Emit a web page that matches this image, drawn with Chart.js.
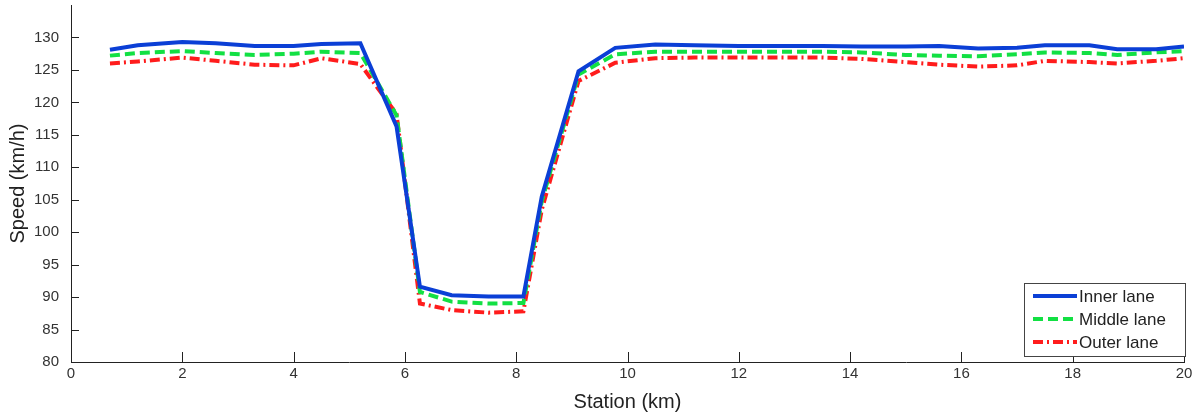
<!DOCTYPE html>
<html>
<head>
<meta charset="utf-8">
<script src="https://cdn.jsdelivr.net/npm/chart.js@4"></script>
<style>
  body { margin: 0; background: #fff; }
  #wrap { width: 1204px; height: 414px; }
</style>
</head>
<body>
<div id="wrap"><canvas id="speed--chart" width="1204" height="414"></canvas></div>
<script>
// station positions (km)
var stations = [0.7, 1.2, 2.0, 2.6, 3.3, 4.0, 4.5, 5.2, 5.85, 6.27, 6.84, 7.5, 8.13, 8.46, 9.12, 9.78,
  10.5, 11.2, 12.0, 12.8, 13.5, 14.2, 15.0, 15.6, 16.3, 17.0, 17.5, 18.3, 18.8, 19.5, 20.0];

var innerLane = [128.1, 128.8, 129.3, 129.1, 128.7, 128.7, 129.0, 129.1, 116.3, 91.6, 90.3, 90.1, 90.1, 105.5, 124.8, 128.4,
  128.9, 128.8, 128.7, 128.7, 128.7, 128.6, 128.6, 128.7, 128.3, 128.4, 128.8, 128.8, 128.2, 128.2, 128.6];

var middleLane = [127.2, 127.6, 127.9, 127.6, 127.3, 127.5, 127.8, 127.6, 118.0, 90.8, 89.3, 89.0, 89.1, 104.8, 124.3, 127.4,
  127.8, 127.8, 127.8, 127.8, 127.8, 127.7, 127.3, 127.2, 127.1, 127.4, 127.7, 127.6, 127.3, 127.7, 127.9];

var outerLane = [126.0, 126.3, 126.9, 126.4, 125.8, 125.7, 126.8, 125.9, 118.2, 89.0, 88.0, 87.6, 87.8, 103.5, 123.3, 126.1,
  126.8, 126.9, 126.9, 126.9, 126.9, 126.7, 126.2, 125.8, 125.5, 125.7, 126.4, 126.2, 126.0, 126.4, 126.8];

var xTicks = [0, 2, 4, 6, 8, 10, 12, 14, 16, 18, 20];
var yTicks = [80, 85, 90, 95, 100, 105, 110, 115, 120, 125, 130];

function pts(vals) {
  return vals.map(function (v, i) { return { x: stations[i], y: v }; });
}

// MATLAB style inward tick marks
var inwardTicks = {
  id: 'inwardTicks',
  afterDatasetsDraw: function (chart) {
    var c = chart.ctx, a = chart.chartArea;
    var xs = chart.scales.x, ys = chart.scales.y;
    c.save();
    c.strokeStyle = '#222';
    c.lineWidth = 1;
    c.beginPath();
    xTicks.forEach(function (t) {
      var px = Math.round(xs.getPixelForValue(t)) + 0.5;
      c.moveTo(px, a.bottom);
      c.lineTo(px, a.bottom - 10);
    });
    yTicks.forEach(function (t) {
      var py = Math.round(ys.getPixelForValue(t)) + 0.5;
      c.moveTo(a.left, py);
      c.lineTo(a.left + 8, py);
    });
    c.stroke();
    c.restore();
  }
};

// legend box in lower right corner
var boxLegend = {
  id: 'boxLegend',
  afterDraw: function (chart) {
    var c = chart.ctx, a = chart.chartArea;
    var x0 = a.right - 160, y0 = a.bottom - 79, w = 161, h = 73;
    c.save();
    c.fillStyle = '#fff';
    c.fillRect(x0, y0, w, h);
    c.strokeStyle = '#444';
    c.lineWidth = 1;
    c.strokeRect(x0 + 0.5, y0 + 0.5, w, h);
    c.font = '17px "Liberation Sans", Arial, sans-serif';
    c.textBaseline = 'middle';
    chart.data.datasets.forEach(function (ds, i) {
      var yy = y0 + 13 + i * 23;
      c.strokeStyle = ds.borderColor;
      c.lineWidth = ds.borderWidth;
      c.setLineDash(ds.borderDash || []);
      c.beginPath();
      c.moveTo(x0 + 9, yy);
      c.lineTo(x0 + 53, yy);
      c.stroke();
      c.setLineDash([]);
      c.fillStyle = '#222';
      c.fillText(ds.label, x0 + 55, yy + 1);
    });
    c.restore();
  }
};

var ctx = document.getElementById('speed--chart');
var speedChart = new Chart(ctx, {
  type: 'line',
  data: {
    datasets: [{
      label: 'Inner lane',
      data: pts(innerLane),
      borderColor: '#0b3fd6',
      borderWidth: 4
    }, {
      label: 'Middle lane',
      data: pts(middleLane),
      borderColor: '#12e043',
      borderWidth: 4,
      borderDash: [10, 5]
    }, {
      label: 'Outer lane',
      data: pts(outerLane),
      borderColor: '#ff1c1c',
      borderWidth: 4,
      borderDash: [10, 4, 2, 4]
    }]
  },
  options: {
    responsive: false,
    animation: false,
    layout: { padding: { top: 5, right: 20, left: 0, bottom: 0 } },
    elements: { point: { radius: 0 }, line: { tension: 0, borderCapStyle: 'butt' } },
    plugins: { legend: { display: false }, tooltip: { enabled: false } },
    scales: {
      x: {
        type: 'linear',
        min: 0, max: 20,
        afterBuildTicks: function (s) { s.ticks = xTicks.map(function (v) { return { value: v }; }); },
        afterFit: function (s) { s.height = 52; s.paddingLeft = 0; s.paddingRight = 0; },
        grid: { display: false, drawTicks: false },
        border: { display: true, color: '#222', width: 1 },
        ticks: { padding: 3, color: '#333', font: { family: '"Liberation Sans", Arial', size: 15 }, maxRotation: 0 },
        title: { display: true, text: 'Station (km)', color: '#222', padding: 0,
          font: { family: '"Liberation Sans", Arial', size: 20 } }
      },
      y: {
        min: 80, max: 135,
        afterBuildTicks: function (s) { s.ticks = yTicks.map(function (v) { return { value: v }; }); },
        afterFit: function (s) { s.width = 71; s.paddingTop = 0; s.paddingBottom = 0; },
        grid: { display: false, drawTicks: false },
        border: { display: true, color: '#222', width: 1 },
        ticks: { padding: 12, color: '#333', font: { family: '"Liberation Sans", Arial', size: 15 } },
        title: { display: true, text: 'Speed (km/h)', color: '#222', padding: { top: 6, bottom: 0 },
          font: { family: '"Liberation Sans", Arial', size: 20 } }
      }
    }
  },
  plugins: [inwardTicks, boxLegend]
});
</script>
</body>
</html>
